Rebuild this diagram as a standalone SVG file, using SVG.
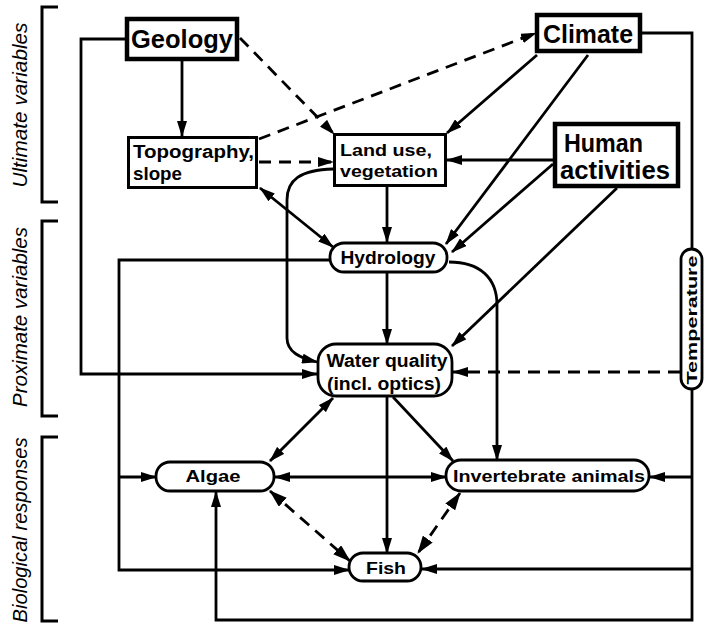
<svg xmlns="http://www.w3.org/2000/svg" width="704" height="626" viewBox="0 0 704 626">
<style>
.bg{fill:#fff}
.box{fill:#fff;stroke:#000;stroke-width:3}
.tbox{fill:#fff;stroke:#000;stroke-width:4.5}
.cap{fill:#fff;stroke:#000;stroke-width:2.8}
.t{font-family:"Liberation Sans",Arial,sans-serif;font-weight:bold;fill:#000}
.lab{font-family:"Liberation Sans",Arial,sans-serif;font-style:italic;font-size:20px;fill:#000}
.ln{fill:none;stroke:#000;stroke-width:2.8}
.d{stroke-dasharray:12 8}
.br{fill:none;stroke:#000;stroke-width:3}
</style>
<defs>
<marker id="a" viewBox="0 0 16 10" refX="15" refY="5" markerWidth="16" markerHeight="10" markerUnits="userSpaceOnUse" orient="auto-start-reverse"><path d="M0,0 L16,5 L0,10 z" fill="#000"/></marker>
<marker id="b" viewBox="0 0 18 12" refX="17" refY="6" markerWidth="18" markerHeight="12" markerUnits="userSpaceOnUse" orient="auto-start-reverse"><path d="M0,0 L18,6 L0,12 z" fill="#000"/></marker>
</defs>
<rect class="bg" x="0" y="0" width="704" height="626"/>
<g id="brackets">
<path class="br" d="M58,7 L42,7 L42,202 L58,202"/>
<path class="br" d="M58,221 L42,221 L42,416 L58,416"/>
<path class="br" d="M58,437 L42,437 L42,621 L58,621"/>
<text class="lab" transform="translate(27,105) rotate(-90)" text-anchor="middle" textLength="165" lengthAdjust="spacingAndGlyphs">Ultimate variables</text>
<text class="lab" transform="translate(27,317) rotate(-90)" text-anchor="middle" textLength="180" lengthAdjust="spacingAndGlyphs">Proximate variables</text>
<text class="lab" transform="translate(27,530) rotate(-90)" text-anchor="middle" textLength="185" lengthAdjust="spacingAndGlyphs">Biological responses</text>
</g>
<g id="connectors">
<path class="ln" d="M182,61 L182,136" marker-end="url(#a)"/>
<path class="ln d" d="M240,38 L334,134" marker-end="url(#a)"/>
<path class="ln d" d="M259,139 L536,33" marker-end="url(#a)"/>
<path class="ln d" d="M259,162 L333,162" marker-end="url(#a)"/>
<path class="ln" d="M260,188 L333,247" marker-start="url(#a)" marker-end="url(#a)"/>
<path class="ln" d="M125,39 L81,39 L81,374 L317,374" marker-end="url(#a)"/>
<path class="ln" d="M387,187 L387,242" marker-end="url(#a)"/>
<path class="ln" d="M333,169 C300,170 287,180 287,200 L287,338 C287,352 300,358 317,362" marker-end="url(#a)"/>
<path class="ln" d="M537,55 L447,133" marker-end="url(#a)"/>
<path class="ln" d="M588,55 L446,244" marker-end="url(#a)"/>
<path class="ln" d="M553,160 L447,160" marker-end="url(#a)"/>
<path class="ln" d="M553,164 L452,252" marker-end="url(#a)"/>
<path class="ln" d="M617,188 L452,346" marker-end="url(#a)"/>
<path class="ln" d="M642,33 L692,33 L692,249"/>
<path class="ln d" d="M680,372 L453,372" marker-end="url(#a)"/>
<path class="ln" d="M692,389 L692,620 L216,620 L216,492" marker-end="url(#a)"/>
<path class="ln" d="M692,477 L650,477" marker-end="url(#a)"/>
<path class="ln" d="M692,569 L422,569" marker-end="url(#a)"/>
<path class="ln" d="M330,260 L119,260 L119,570 L349,570" marker-end="url(#a)"/>
<path class="ln" d="M119,477 L156,477" marker-end="url(#a)"/>
<path class="ln" d="M387,273 L387,344" marker-end="url(#a)"/>
<path class="ln" d="M449,262 C480,262 497,278 497,305 L497,460" marker-end="url(#a)"/>
<path class="ln" d="M333,398 L270,461" marker-start="url(#a)" marker-end="url(#a)"/>
<path class="ln" d="M387,397 L387,553" marker-end="url(#a)"/>
<path class="ln" d="M393,397 L453,461" marker-end="url(#a)"/>
<path class="ln" d="M275,477 L446,477" marker-start="url(#a)" marker-end="url(#a)"/>
<path class="ln d" d="M270,491 L350,561" marker-start="url(#b)" marker-end="url(#b)"/>
<path class="ln d" d="M460,493 L418,553" marker-start="url(#b)" marker-end="url(#b)"/>
</g>
<g id="geology">
<rect class="tbox" x="127" y="19" width="110" height="40"/>
<text class="t" x="182" y="48" font-size="25" text-anchor="middle" textLength="102" lengthAdjust="spacingAndGlyphs">Geology</text>
</g>
<g id="climate">
<rect class="tbox" x="537" y="15" width="103" height="36"/>
<text class="t" x="588" y="43" font-size="25" text-anchor="middle" textLength="90" lengthAdjust="spacingAndGlyphs">Climate</text>
</g>
<g id="human">
<rect class="tbox" x="555" y="124" width="123" height="62"/>
<text class="t" x="564" y="152" font-size="26" textLength="79" lengthAdjust="spacingAndGlyphs">Human</text>
<text class="t" x="560" y="179" font-size="26" textLength="110" lengthAdjust="spacingAndGlyphs">activities</text>
</g>
<g id="topography">
<rect class="box" x="128.5" y="137.5" width="128" height="50"/>
<text class="t" x="133" y="158" font-size="18" textLength="121" lengthAdjust="spacingAndGlyphs">Topography,</text>
<text class="t" x="133" y="180" font-size="18" textLength="49" lengthAdjust="spacingAndGlyphs">slope</text>
</g>
<g id="landuse">
<rect class="box" x="334.5" y="134.5" width="111" height="51"/>
<text class="t" x="340" y="156" font-size="17" textLength="92" lengthAdjust="spacingAndGlyphs">Land use,</text>
<text class="t" x="340" y="177" font-size="17" textLength="98" lengthAdjust="spacingAndGlyphs">vegetation</text>
</g>
<g id="hydrology">
<rect class="cap" x="330" y="243" width="117" height="29" rx="14"/>
<text class="t" x="388" y="264" font-size="18" text-anchor="middle" textLength="95" lengthAdjust="spacingAndGlyphs">Hydrology</text>
</g>
<g id="waterquality">
<rect class="cap" x="318" y="344" width="134" height="52" rx="18"/>
<text class="t" x="387" y="367" font-size="18" text-anchor="middle" textLength="121" lengthAdjust="spacingAndGlyphs">Water quality</text>
<text class="t" x="384" y="390" font-size="18" text-anchor="middle" textLength="114" lengthAdjust="spacingAndGlyphs">(incl. optics)</text>
</g>
<g id="temperature">
<rect class="cap" x="681" y="249" width="21" height="140" rx="10.5"/>
<text class="t" transform="translate(697,320) rotate(-90)" font-size="15" text-anchor="middle" textLength="129" lengthAdjust="spacingAndGlyphs">Temperature</text>
</g>
<g id="algae">
<rect class="cap" x="156" y="462" width="118" height="29" rx="14"/>
<text class="t" x="213" y="482" font-size="17" text-anchor="middle" textLength="55" lengthAdjust="spacingAndGlyphs">Algae</text>
</g>
<g id="invertebrates">
<rect class="cap" x="446" y="460" width="203" height="31" rx="15"/>
<text class="t" x="549" y="482" font-size="17" text-anchor="middle" textLength="192" lengthAdjust="spacingAndGlyphs">Invertebrate animals</text>
</g>
<g id="fish">
<rect class="cap" x="349" y="553" width="72" height="28" rx="14"/>
<text class="t" x="386" y="574" font-size="17" text-anchor="middle" textLength="40" lengthAdjust="spacingAndGlyphs">Fish</text>
</g>
</svg>
